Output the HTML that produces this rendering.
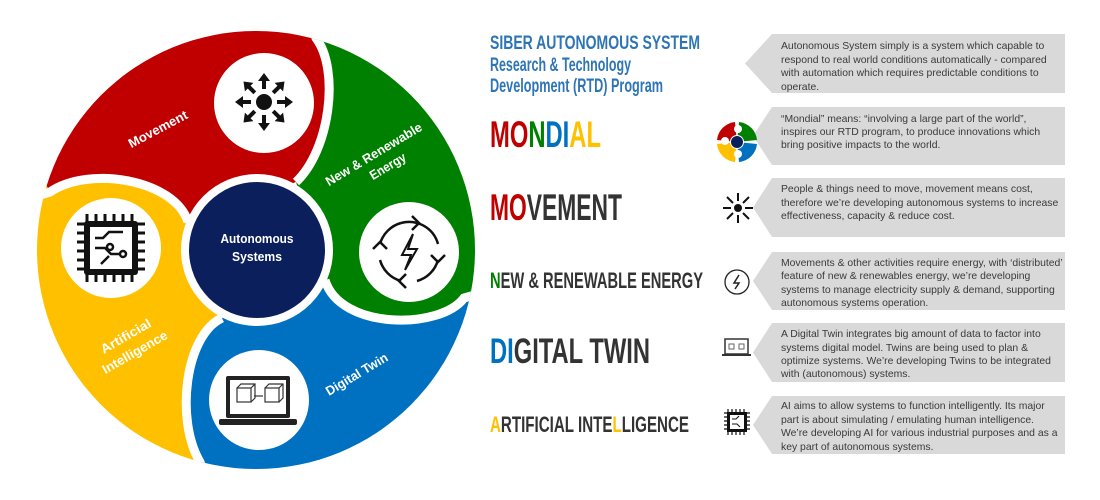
<!DOCTYPE html>
<html><head><meta charset="utf-8"><style>
html,body{margin:0;padding:0;background:#fff;width:1100px;height:500px;overflow:hidden;}
svg{display:block;}
.h{font-family:"Liberation Sans",sans-serif;font-weight:bold;}
.b{font-family:"Liberation Sans",sans-serif;font-size:10.4px;fill:#3a3a3a;}
.w{font-family:"Liberation Sans",sans-serif;fill:#fff;font-size:13px;font-weight:bold;}
</style></head><body>
<svg width="1100" height="500" viewBox="0 0 1100 500" xmlns="http://www.w3.org/2000/svg" overflow="hidden">
<defs>
<clipPath id="cc"><circle cx="256" cy="250" r="219"/></clipPath>
<g id="arrow"><path d="M0,-13 L0,-22" stroke="#111" stroke-width="4"/><path d="M-6,-21 L0,-29 L6,-21 Z" fill="#111"/></g>
</defs>
<g clip-path="url(#cc)">
<path fill="#c00000" d="M188,222 C175,180 90,165 50,192 L0,100 L200,0 L316,38 C340,70 330,150 296,182 Z"/>
<path fill="#008000" d="M296,182 C330,150 340,70 316,38 L320,0 L490,0 L490,300 L464,298 C440,330 340,330 325,280 Z"/>
<path fill="#0070c0" d="M325,280 C340,330 440,330 464,298 L490,300 L490,498 L200,498 L200,462 C175,420 185,335 222,318 Z"/>
<path fill="#ffc000" d="M222,318 C185,335 175,420 200,462 L200,498 L0,498 L0,100 L50,192 C90,165 175,180 188,222 Z"/>
<g fill="none" stroke="#fff" stroke-width="9">
<path d="M296,182 C330,150 340,70 316,38 L308,10"/>
<path d="M325,280 C340,330 440,330 464,298 L485,292"/>
<path d="M222,318 C185,335 175,420 200,462 L208,485"/>
<path d="M188,222 C175,180 90,165 50,192 L25,200"/>
</g>
</g>
<circle cx="257" cy="250" r="76" fill="#fff"/>
<circle cx="257" cy="250" r="68" fill="#0b1f5c"/>
<text class="w" x="257" y="243" text-anchor="middle" font-size="15" textLength="73" lengthAdjust="spacingAndGlyphs">Autonomous</text>
<text class="w" x="257" y="261" text-anchor="middle" font-size="15" textLength="50" lengthAdjust="spacingAndGlyphs">Systems</text>
<circle cx="264" cy="103" r="50" fill="#fff"/>
<circle cx="409" cy="252" r="50" fill="#fff"/>
<circle cx="259" cy="400" r="50" fill="#fff"/>
<circle cx="111" cy="248" r="50" fill="#fff"/>
<g transform="translate(264,102)">
<circle r="8" fill="#111"/>
<use href="#arrow"/><use href="#arrow" transform="rotate(45)"/><use href="#arrow" transform="rotate(90)"/><use href="#arrow" transform="rotate(135)"/>
<use href="#arrow" transform="rotate(180)"/><use href="#arrow" transform="rotate(225)"/><use href="#arrow" transform="rotate(270)"/><use href="#arrow" transform="rotate(315)"/>
</g>
<g transform="translate(409,252)" fill="none" stroke="#111" stroke-width="2.5">
<path d="M-8,-29 A30,30 0 0 1 29,-8"/><path d="M29,8 A30,30 0 0 1 8,29"/><path d="M-8,29 A30,30 0 0 1 -29,8"/><path d="M-29,-8 A30,30 0 0 1 -8,-29"/>
<path d="M3,-36 L10,-29 L3,-22"/><path d="M36,3 L29,10 L22,3"/><path d="M-3,36 L-10,29 L-3,22"/><path d="M-36,-3 L-29,-10 L-22,-3"/>
<path d="M4,-18 L-7,3 L2,3 L-4,18 L8,-3 L-1,-3 Z" stroke-width="2"/>
</g>
<g transform="translate(259,400)">
<rect x="-33" y="-24" width="64" height="42" rx="2" fill="#222"/>
<rect x="-29" y="-20" width="56" height="34" fill="#fff"/>
<rect x="-40" y="19" width="78" height="6" rx="2" fill="#222"/>
<g fill="none" stroke="#333" stroke-width="1.2">
<rect x="-22" y="-12" width="14" height="14"/><path d="M-22,-12 l4,-4 h14 v14 l-4,4 M-8,-12 l4,-4"/>
<rect x="6" y="-12" width="14" height="14"/><path d="M6,-12 l4,-4 h14 v14 l-4,4 M20,-12 l4,-4"/>
<path d="M-5,-4 h9"/></g>
</g>
<g transform="translate(111,248)">
<g stroke="#111" stroke-width="3">
<path d="M-24,-34 v68 M-15,-34 v68 M-6,-34 v68 M3,-34 v68 M12,-34 v68 M21,-34 v68"/>
<path d="M-34,-24 h68 M-34,-15 h68 M-34,-6 h68 M-34,3 h68 M-34,12 h68 M-34,21 h68"/>
</g>
<rect x="-27" y="-27" width="54" height="54" rx="3" fill="#111"/>
<rect x="-21" y="-21" width="42" height="42" fill="#fff"/>
<g fill="none" stroke="#111" stroke-width="2.5"><path d="M-16,-10 h8 l6,-6 h14"/><path d="M-16,0 h10 l6,6 h10"/><path d="M-10,16 l8,-8"/><circle cx="-1" cy="-1" r="3"/><circle cx="12" cy="6" r="3"/></g>
</g>
<text class="w" font-size="15" textLength="65" lengthAdjust="spacingAndGlyphs" transform="translate(160,133) rotate(-28)" text-anchor="middle">Movement</text>
<text class="w" font-size="14" textLength="110" lengthAdjust="spacingAndGlyphs" transform="translate(376,158) rotate(-31)" text-anchor="middle">New &amp; Renewable</text>
<text class="w" font-size="14" textLength="40" lengthAdjust="spacingAndGlyphs" transform="translate(390,170) rotate(-31)" text-anchor="middle">Energy</text>
<text class="w" font-size="14" textLength="56" lengthAdjust="spacingAndGlyphs" transform="translate(128,340) rotate(-30)" text-anchor="middle">Artificial</text>
<text class="w" font-size="14" textLength="73" lengthAdjust="spacingAndGlyphs" transform="translate(137,356) rotate(-30)" text-anchor="middle">Intelligence</text>
<text class="w" font-size="14" textLength="70" lengthAdjust="spacingAndGlyphs" transform="translate(359,378) rotate(-31)" text-anchor="middle">Digital Twin</text>

<g class="h" fill="#2e75b6" font-size="19">
<text x="490" y="49" textLength="210" lengthAdjust="spacingAndGlyphs">SIBER AUTONOMOUS SYSTEM</text>
<text x="490" y="71" textLength="141" lengthAdjust="spacingAndGlyphs">Research &amp; Technology</text>
<text x="490" y="92" textLength="173" lengthAdjust="spacingAndGlyphs">Development (RTD) Program</text>
</g>
<g class="h" fill="#333">
<text x="490" y="147" font-size="37" textLength="111" lengthAdjust="spacingAndGlyphs"><tspan fill="#c00000">MO</tspan><tspan fill="#008000">N</tspan><tspan fill="#0070c0">DI</tspan><tspan fill="#ffc000">AL</tspan></text>
<text x="490" y="220" font-size="37" textLength="132" lengthAdjust="spacingAndGlyphs"><tspan fill="#c00000">MO</tspan>VEMENT</text>
<text x="490" y="288" font-size="22" textLength="213" lengthAdjust="spacingAndGlyphs"><tspan fill="#008000">N</tspan>EW &amp; RENEWABLE ENERGY</text>
<text x="490" y="363" font-size="35" textLength="160" lengthAdjust="spacingAndGlyphs"><tspan fill="#0070c0">DI</tspan>GITAL TWIN</text>
<text x="490" y="432" font-size="22" textLength="199" lengthAdjust="spacingAndGlyphs"><tspan fill="#ffc000">A</tspan>RTIFICIAL INTE<tspan fill="#ffc000">L</tspan>LIGENCE</text>
</g>
<g fill="#d9d9d9">
<path d="M772,34 H1065 V93 H772 L745,63.5 Z"/>
<path d="M772,107 H1065 V165 H772 L753,136 Z"/>
<path d="M772,178 H1065 V237 H772 L753,207.5 Z"/>
<path d="M772,252 H1065 V310 H772 L753,281 Z"/>
<path d="M772,323 H1065 V382 H772 L753,352.5 Z"/>
<path d="M772,396 H1065 V454 H772 L753,425 Z"/>
</g>
<g class="b">
<text x="781" y="49">Autonomous System simply is a system which capable to</text>
<text x="781" y="63">respond to real world conditions automatically - compared</text>
<text x="781" y="76">with automation which requires predictable conditions to</text>
<text x="781" y="90">operate.</text>
<text x="781" y="122">“Mondial” means: “involving a large part of the world”,</text>
<text x="781" y="135">inspires our RTD program, to produce innovations which</text>
<text x="781" y="148">bring positive impacts to the world.</text>
<text x="781" y="192">People &amp; things need to move, movement means cost,</text>
<text x="781" y="206">therefore we’re developing autonomous systems to increase</text>
<text x="781" y="219">effectiveness, capacity &amp; reduce cost.</text>
<text x="781" y="266">Movements &amp; other activities require energy, with ‘distributed’</text>
<text x="781" y="279">feature of new &amp; renewables energy, we’re developing</text>
<text x="781" y="293">systems to manage electricity supply &amp; demand, supporting</text>
<text x="781" y="306">autonomous systems operation.</text>
<text x="781" y="337">A Digital Twin integrates big amount of data to factor into</text>
<text x="781" y="351">systems digital model. Twins are being used to plan &amp;</text>
<text x="781" y="364">optimize systems. We’re developing Twins to be integrated</text>
<text x="781" y="377">with (autonomous) systems.</text>
<text x="781" y="409">AI aims to allow systems to function intelligently. Its major</text>
<text x="781" y="423">part is about simulating / emulating human intelligence.</text>
<text x="781" y="436">We’re developing AI for various industrial purposes and as a</text>
<text x="781" y="450">key part of autonomous systems.</text>
</g>
<g transform="translate(737,142)">
<path d="M0,0 L-20,-2 A20,20 0 0 1 -2,-20 Z" fill="#c00000"/>
<path d="M0,0 L2,-20 A20,20 0 0 1 20,-2 Z" fill="#008000"/>
<path d="M0,0 L20,2 A20,20 0 0 1 2,20 Z" fill="#0070c0"/>
<path d="M0,0 L-2,20 A20,20 0 0 1 -20,2 Z" fill="#ffc000"/>
<circle r="7" fill="#fff"/><circle r="6" fill="#0b1f5c"/>
<circle cx="-12" cy="-1" r="4" fill="#fff"/><circle cx="1" cy="-13" r="4" fill="#fff"/><circle cx="1" cy="12" r="4" fill="#fff"/>
</g>
<g transform="translate(738,208)">
<circle r="4" fill="#111"/>
<g stroke="#111" stroke-width="2"><path d="M0,-7 v-8 M0,7 v8 M-7,0 h-8 M7,0 h8 M5,-5 l6,-6 M-5,-5 l-6,-6 M5,5 l6,6 M-5,5 l-6,6"/></g>
</g>
<g transform="translate(737,282)" fill="none" stroke="#222" stroke-width="1.3">
<circle r="12"/><path d="M2,-7 L-3,1 L2,1 L-2,7" stroke-width="1.5"/>
</g>
<g transform="translate(737,348)">
<rect x="-12" y="-9" width="23" height="15" fill="none" stroke="#333" stroke-width="1.5"/>
<rect x="-15" y="6" width="29" height="2" fill="#333"/>
<rect x="-8" y="-4" width="5" height="5" fill="none" stroke="#666"/><rect x="2" y="-4" width="5" height="5" fill="none" stroke="#666"/>
</g>
<g transform="translate(737,422)">
<g stroke="#111" stroke-width="1.2"><path d="M-9,-13 v26 M-5,-13 v26 M-1,-13 v26 M3,-13 v26 M7,-13 v26 M-13,-9 h26 M-13,-5 h26 M-13,-1 h26 M-13,3 h26 M-13,7 h26"/></g>
<rect x="-10" y="-10" width="20" height="20" fill="#111"/><rect x="-7" y="-7" width="14" height="14" fill="#fff"/>
<path d="M-5,-3 h4 l3,-3 M-5,2 h5 l3,3" stroke="#111" fill="none"/>
</g>
</svg>
</body></html>
